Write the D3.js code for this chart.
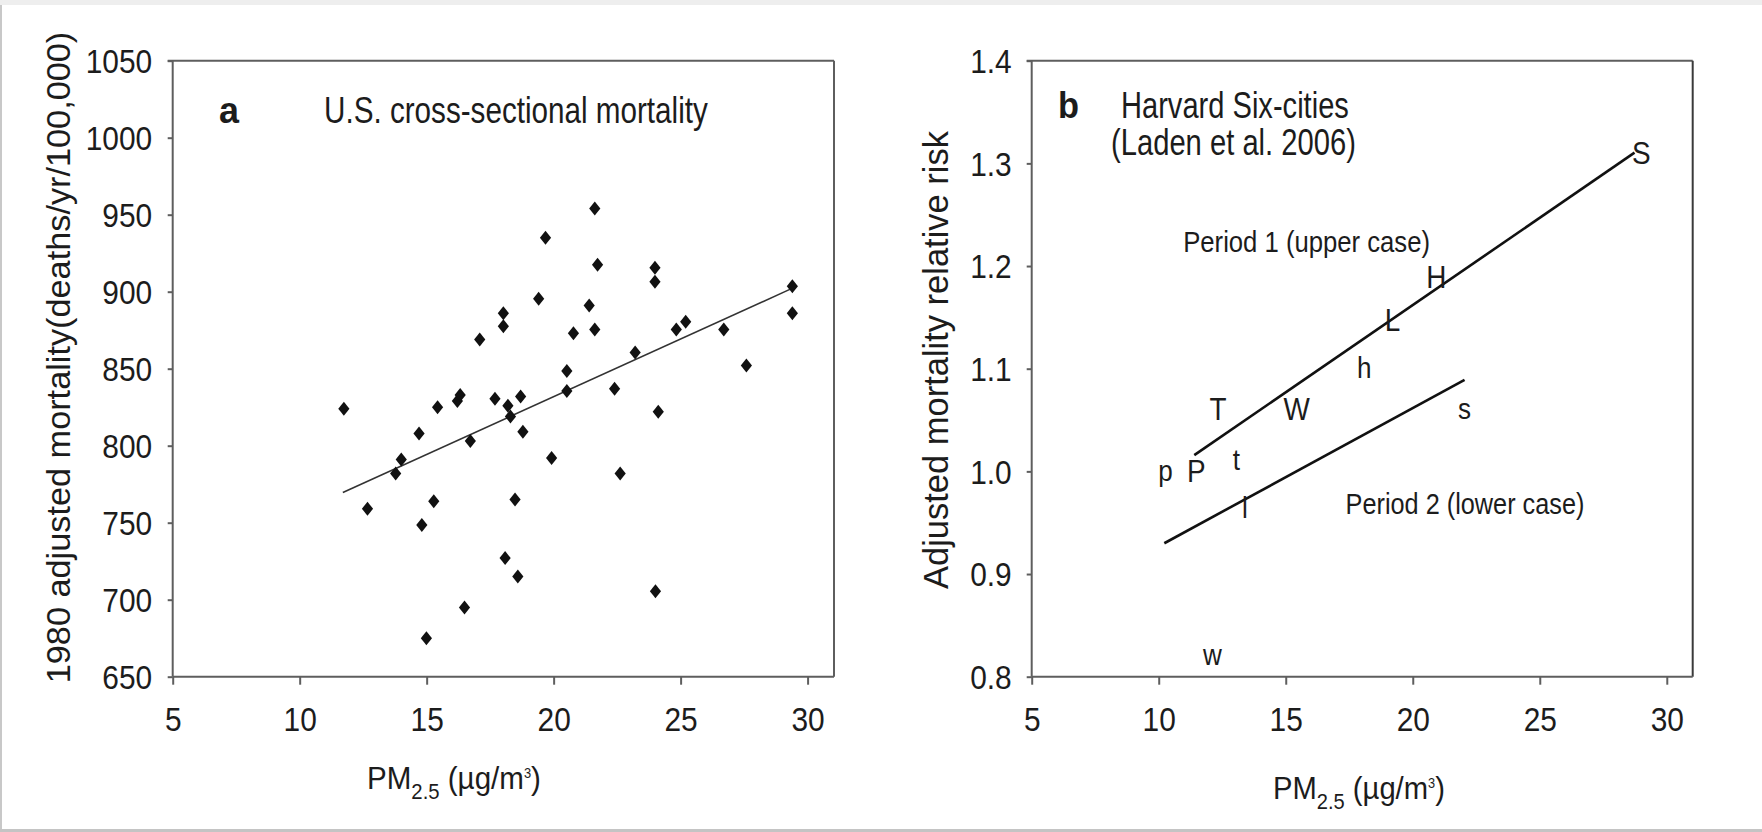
<!DOCTYPE html>
<html>
<head>
<meta charset="utf-8">
<script src="https://cdn.jsdelivr.net/npm/d3@7"></script>
<style>
  html, body { margin: 0; padding: 0; background: #fff; }
  svg { display: block; font-family: "Liberation Sans", Arial, sans-serif; }
</style>
</head>
<body>
<svg id="chart" width="1762" height="832"></svg>
<script>
// ---------------- Data: panel a ----------------
const pmA = [11.74, 12.67, 13.78, 14.0, 14.7, 14.81, 14.99, 15.28, 15.43, 16.21, 16.32, 16.49,
  16.72, 17.09, 17.69, 18.02, 18.02, 18.09, 18.2, 18.3, 18.48, 18.59, 18.7, 18.79, 19.41,
  19.68, 19.92, 20.52, 20.52, 20.78, 21.4, 21.62, 21.62, 21.73, 22.4, 22.62, 23.21, 23.99,
  23.99, 24.01, 24.12, 24.83, 25.2, 26.7, 27.59, 29.4, 29.4];
const mortA = [824, 759, 782, 791, 808, 748.5, 675, 764, 825, 829, 833, 695,
  803, 869, 830.5, 886, 877.5, 727, 826, 819, 765, 715, 832, 809, 895.5,
  935, 792, 848.5, 835.5, 873, 891, 954, 875.5, 917.5, 837, 782, 860.5, 915.5,
  906.5, 705.5, 822, 875.5, 880.5, 875.5, 852, 903.5, 886];
const trendAx = [11.7, 29.3];
const trendAy = [769.6, 901.5];
const xTicks = [5, 10, 15, 20, 25, 30];
const yTicksA = [650, 700, 750, 800, 850, 900, 950, 1000, 1050];

// ---------------- Data: panel b ----------------
const cityLabels = ["S", "H", "L", "T", "W", "P", "s", "h", "t", "l", "p", "w"];
const cityPM     = [29.0, 20.93, 19.2, 12.33, 15.43, 11.48, 22.04, 18.09, 13.06, 13.39, 10.27, 12.11];
const cityRR     = [1.31, 1.189, 1.1475, 1.061, 1.061, 1.0005, 1.058, 1.0988, 1.009, 0.962, 0.998, 0.8187];
const period1X = [11.4, 28.73];
const period1Y = [1.0158, 1.3104];
const period2X = [10.22, 22.04];
const period2Y = [0.930, 1.0891];
const yTicksB = [0.8, 0.9, 1.0, 1.1, 1.2, 1.3, 1.4];

// ---------------- Setup ----------------
const ink = "#1c1c1c";
const axisCol = "#5e5e5e";
const svg = d3.select("#chart");

// outer frame
svg.append("rect").attr("x", 0).attr("y", 0).attr("width", 1762).attr("height", 5).attr("fill", "#eeeeee");
svg.append("line").attr("x1", 1).attr("x2", 1).attr("y1", 5).attr("y2", 832).attr("stroke", "#c8c8c8").attr("stroke-width", 2);
svg.append("line").attr("x1", 0).attr("x2", 1762).attr("y1", 830.5).attr("y2", 830.5).attr("stroke", "#c4c4c4").attr("stroke-width", 3);

function label(parent, x, y, str, o) {
  const g = parent.append("g").attr("transform", `translate(${x},${y})` + (o.rotate ? ` rotate(${o.rotate})` : ""));
  const t = g.append("text")
    .attr("font-size", o.size)
    .attr("text-anchor", o.anchor || "start")
    .attr("font-weight", o.weight || "normal")
    .attr("fill", ink);
  if (o.baseline) t.attr("dominant-baseline", o.baseline);
  t.text(str);
  if (o.width) {
    const n = t.node().getComputedTextLength();
    t.attr("transform", `scale(${o.width / n},1)`);
  } else if (o.k) {
    t.attr("transform", `scale(${o.k},1)`);
  }
  return t;
}

function xTitle(parent, x, y, width) {
  const g = parent.append("g").attr("transform", `translate(${x},${y})`);
  const t = g.append("text").attr("font-size", 32).attr("fill", ink);
  t.append("tspan").text("PM");
  t.append("tspan").attr("font-size", 22).attr("dy", 10).text("2.5");
  t.append("tspan").attr("dy", -10).text(" (\u00b5g/m");
  t.append("tspan").attr("font-size", 14).attr("dy", -11).text("3");
  t.append("tspan").attr("dy", 11).text(")");
  const n = t.node().getComputedTextLength();
  t.attr("transform", `scale(${width / n},1)`);
}

function frame(g, x0, x1, y0, y1, rightCol) {
  g.append("line").attr("x1", x0 - 5).attr("x2", x1).attr("y1", y0).attr("y2", y0).attr("stroke", axisCol).attr("stroke-width", 2);
  g.append("line").attr("x1", x1).attr("x2", x1).attr("y1", y0).attr("y2", y1).attr("stroke", rightCol).attr("stroke-width", 2);
  g.append("line").attr("x1", x0).attr("x2", x1).attr("y1", y1).attr("y2", y1).attr("stroke", axisCol).attr("stroke-width", 2);
  g.append("line").attr("x1", x0).attr("x2", x0).attr("y1", y0).attr("y2", y1).attr("stroke", axisCol).attr("stroke-width", 2);
}

const tickK = 0.92;
const tickSize = 32.5;

function styleAxis(ax, kind, offset) {
  ax.select(".domain").remove();
  ax.selectAll(".tick line").attr("stroke", axisCol).attr("stroke-width", 2);
  ax.selectAll(".tick text")
    .attr("fill", ink)
    .attr("font-size", tickSize)
    .attr("font-family", "Liberation Sans, Arial, sans-serif")
    .attr("transform", `scale(${tickK},1)`);
  if (kind === "y") {
    ax.selectAll(".tick text").attr("x", -offset / tickK).attr("dy", "0.36em");
  }
}

// ---------------- Panel a ----------------
const xA = d3.scaleLinear().domain([5, 31.04]).range([172.7, 834]);
const yA = d3.scaleLinear().domain([650, 1050]).range([676.7, 60.7]);
const gA = svg.append("g");

const axA_x = gA.append("g").attr("transform", `translate(0,${yA(650)})`)
  .call(d3.axisBottom(xA).tickValues(xTicks).tickSize(8).tickSizeOuter(0).tickPadding(23));
styleAxis(axA_x, "x");
const axA_y = gA.append("g").attr("transform", `translate(${xA(5)},0)`)
  .call(d3.axisLeft(yA).tickValues(yTicksA).tickSize(5).tickSizeOuter(0).tickFormat(d3.format("d")));
styleAxis(axA_y, "y", 20.5);
frame(gA, xA(5), xA(31.04), yA(1050), yA(650), axisCol);

gA.append("line")
  .attr("x1", xA(trendAx[0])).attr("y1", yA(trendAy[0]))
  .attr("x2", xA(trendAx[1])).attr("y2", yA(trendAy[1]))
  .attr("stroke", "#333").attr("stroke-width", 1.6);

const diamond = "M0,-7 L5.6,0 L0,7 L-5.6,0 Z";
gA.selectAll("path.pt").data(pmA.map((d, i) => [d, mortA[i]])).enter()
  .append("path").attr("class", "pt")
  .attr("d", diamond)
  .attr("transform", d => `translate(${xA(d[0])},${yA(d[1])})`)
  .attr("fill", "#111");

label(gA, 219, 123, "a", { size: 37, weight: "bold", width: 20 });
label(gA, 324, 123, "U.S. cross-sectional mortality", { size: 37, width: 384 });
label(gA, 70, 357.5, "1980 adjusted mortality(deaths/yr/100,000)", { size: 34, rotate: -90, anchor: "middle", width: 652 });
xTitle(gA, 367, 788.7, 174);

// ---------------- Panel b ----------------
const xB = d3.scaleLinear().domain([5, 31.02]).range([1031.7, 1692.7]);
const yB = d3.scaleLinear().domain([0.8, 1.4]).range([676.7, 60.7]);
const gB = svg.append("g");

const axB_x = gB.append("g").attr("transform", `translate(0,${yB(0.8)})`)
  .call(d3.axisBottom(xB).tickValues(xTicks).tickSize(8).tickSizeOuter(0).tickPadding(23));
styleAxis(axB_x, "x");
const axB_y = gB.append("g").attr("transform", `translate(${xB(5)},0)`)
  .call(d3.axisLeft(yB).tickValues(yTicksB).tickSize(5).tickSizeOuter(0).tickFormat(d3.format(".1f")));
styleAxis(axB_y, "y", 20);
frame(gB, xB(5), xB(31.02), yB(1.4), yB(0.8), "#3a3a3a");

gB.append("line")
  .attr("x1", xB(period1X[0])).attr("y1", yB(period1Y[0]))
  .attr("x2", xB(period1X[1])).attr("y2", yB(period1Y[1]))
  .attr("stroke", "#111").attr("stroke-width", 2.6);
gB.append("line")
  .attr("x1", xB(period2X[0])).attr("y1", yB(period2Y[0]))
  .attr("x2", xB(period2X[1])).attr("y2", yB(period2Y[1]))
  .attr("stroke", "#111").attr("stroke-width", 2.6);

cityLabels.forEach((c, i) => {
  const upper = c === c.toUpperCase();
  label(gB, xB(cityPM[i]), yB(cityRR[i]), c, {
    size: upper ? 31 : 29, anchor: "middle", k: 0.9,
    baseline: upper ? "central" : "middle"
  });
});

label(gB, 1058, 118, "b", { size: 37, weight: "bold", width: 21 });
label(gB, 1121, 118, "Harvard Six-cities", { size: 37, width: 228 });
label(gB, 1111, 155, "(Laden et al. 2006)", { size: 37, width: 245 });
label(gB, 1306.6, 251.7, "Period 1 (upper case)", { size: 30, anchor: "middle", width: 247 });
label(gB, 1465, 514.3, "Period 2 (lower case)", { size: 30, anchor: "middle", width: 239 });
label(gB, 947.6, 360, "Adjusted mortality relative risk", { size: 34.5, rotate: -90, anchor: "middle", width: 458 });
xTitle(gB, 1273, 799.3, 172);
</script>
</body>
</html>
